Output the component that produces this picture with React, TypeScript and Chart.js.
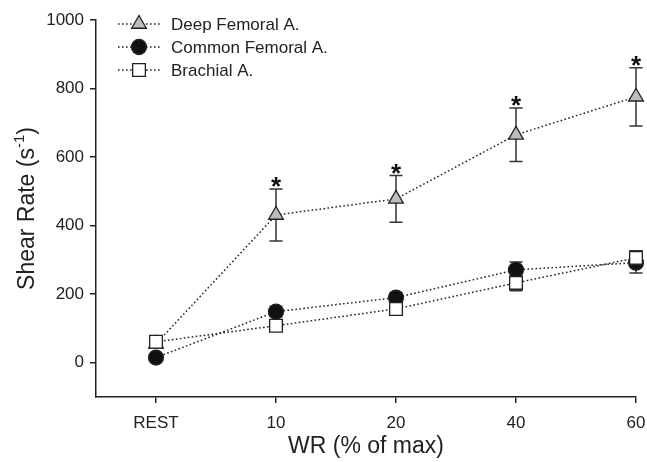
import React, { useEffect, useRef } from "react";
import { Chart, registerables } from "chart.js";

Chart.register(...registerables);

const categories = ["REST", "10", "20", "40", "60"];
const yTicks = [0, 200, 400, 600, 800, 1000];

const deepFemoral = [55, 431, 478, 665, 776];
const deepFemoralErr = [0, 76, 68, 78, 85];
const commonFemoral = [15, 149, 190, 271, 292];
const commonFemoralErr = [6, 15, 14, 23, 30];
const brachial = [61, 108, 157, 233, 306];
const brachialErr = [4, 9, 10, 23, 21];
const significant = [false, true, true, true, true];

const seriesNames = ["Deep Femoral A.", "Common Femoral A.", "Brachial A."];

const FONT = "'Liberation Sans', Arial, Helvetica, sans-serif";
const INK = "#222";

type Marker = { style: string; radius: number; fill: string };
const markers: Marker[] = [
  { style: "triangle", radius: 8.5, fill: "#bdbdbd" },
  { style: "circle", radius: 7.5, fill: "#111" },
  { style: "rect", radius: 9, fill: "#ffffff" },
];

function drawMarker(ctx: CanvasRenderingContext2D, m: Marker, x: number, y: number) {
  ctx.save();
  ctx.fillStyle = m.fill;
  ctx.strokeStyle = INK;
  ctx.lineWidth = 1.3;
  ctx.setLineDash([]);
  ctx.beginPath();
  const r = m.radius;
  if (m.style === "circle") {
    ctx.arc(x, y, r, 0, Math.PI * 2);
  } else if (m.style === "rect") {
    const s = r * Math.SQRT1_2;
    ctx.rect(x - s, y - s, 2 * s, 2 * s);
  } else {
    let a = 0;
    ctx.moveTo(x + Math.sin(a) * r, y - Math.cos(a) * r);
    a += (2 * Math.PI) / 3;
    ctx.lineTo(x + Math.sin(a) * r, y - Math.cos(a) * r);
    a += (2 * Math.PI) / 3;
    ctx.lineTo(x + Math.sin(a) * r, y - Math.cos(a) * r);
    ctx.closePath();
  }
  ctx.fill();
  ctx.stroke();
  ctx.restore();
}

const errorBarPlugin = {
  id: "errorBars",
  beforeDatasetsDraw(chart: any) {
    const ctx: CanvasRenderingContext2D = chart.ctx;
    const xs = chart.scales.x;
    const ys = chart.scales.y;
    ctx.save();
    ctx.strokeStyle = "#333";
    ctx.lineWidth = 1.5;
    chart.data.datasets.forEach((ds: any) => {
      const errs: number[] = ds.errors || [];
      ds.data.forEach((p: any, i: number) => {
        const e = errs[i];
        if (!e) return;
        const px = xs.getPixelForValue(p.x);
        const top = ys.getPixelForValue(p.y + e);
        const bot = ys.getPixelForValue(p.y - e);
        const cap = 6.5;
        ctx.beginPath();
        ctx.moveTo(px, top);
        ctx.lineTo(px, bot);
        ctx.moveTo(px - cap, top);
        ctx.lineTo(px + cap, top);
        ctx.moveTo(px - cap, bot);
        ctx.lineTo(px + cap, bot);
        ctx.stroke();
      });
    });
    ctx.restore();
  },
  afterDatasetsDraw(chart: any) {
    const ctx: CanvasRenderingContext2D = chart.ctx;
    const xs = chart.scales.x;
    const ys = chart.scales.y;
    ctx.save();
    ctx.fillStyle = "#111";
    ctx.font = `bold 26px ${FONT}`;
    ctx.textAlign = "center";
    ctx.textBaseline = "alphabetic";
    significant.forEach((s, i) => {
      if (!s) return;
      const px = xs.getPixelForValue(i);
      const top = ys.getPixelForValue(deepFemoral[i] + deepFemoralErr[i]);
      ctx.fillText("*", px, top + 6);
    });
    ctx.restore();
  },
  afterDraw(chart: any) {
    const ctx: CanvasRenderingContext2D = chart.ctx;
    const area = chart.chartArea;
    ctx.save();
    // legend
    const legendY = [24, 47, 70];
    seriesNames.forEach((name, i) => {
      const y = legendY[i];
      ctx.strokeStyle = INK;
      ctx.lineWidth = 1.5;
      ctx.setLineDash([1.6, 2.4]);
      ctx.beginPath();
      ctx.moveTo(118, y);
      ctx.lineTo(161, y);
      ctx.stroke();
      ctx.setLineDash([]);
      drawMarker(ctx, markers[i], 139, y);
      ctx.fillStyle = INK;
      ctx.font = `17px ${FONT}`;
      ctx.textAlign = "left";
      ctx.textBaseline = "middle";
      ctx.fillText(name, 171, y + 1);
    });
    // x title
    ctx.fillStyle = INK;
    ctx.font = `23px ${FONT}`;
    ctx.textAlign = "center";
    ctx.textBaseline = "middle";
    ctx.fillText("WR (% of max)", (area.left + area.right) / 2, 447);
    // y title with superscript
    ctx.translate(26, (area.top + area.bottom) / 2);
    ctx.rotate(-Math.PI / 2);
    const main = "Shear Rate (s";
    const sup = "-1";
    const end = ")";
    ctx.font = `23px ${FONT}`;
    const w1 = ctx.measureText(main).width;
    const w3 = ctx.measureText(end).width;
    ctx.font = `15px ${FONT}`;
    const w2 = ctx.measureText(sup).width;
    const total = w1 + w2 + w3;
    let x0 = -total / 2;
    ctx.textAlign = "left";
    ctx.textBaseline = "alphabetic";
    ctx.font = `23px ${FONT}`;
    ctx.fillText(main, x0, 8);
    ctx.font = `15px ${FONT}`;
    ctx.fillText(sup, x0 + w1, -2);
    ctx.font = `23px ${FONT}`;
    ctx.fillText(end, x0 + w1 + w2, 8);
    ctx.restore();
  },
};

export default function App() {
  const ref = useRef<HTMLCanvasElement | null>(null);
  useEffect(() => {
    document.body.style.margin = "0";
    const canvas = ref.current;
    if (!canvas) return;
    const toPts = (arr: number[]) => arr.map((v, i) => ({ x: i, y: v }));
    const lineCommon = {
      borderColor: INK,
      borderWidth: 1.5,
      borderDash: [1.6, 2.4],
      pointBorderColor: INK,
      pointBorderWidth: 1.3,
      pointHoverRadius: 8,
      tension: 0,
      fill: false,
      clip: false as any,
    };
    const chart = new Chart(canvas, {
      type: "line",
      data: {
        datasets: [
          {
            ...lineCommon,
            label: seriesNames[2],
            data: toPts(brachial),
            errors: brachialErr,
            pointStyle: "rect",
            pointRadius: markers[2].radius,
            pointBackgroundColor: markers[2].fill,
            order: 0,
          } as any,
          {
            ...lineCommon,
            label: seriesNames[1],
            data: toPts(commonFemoral),
            errors: commonFemoralErr,
            pointStyle: "circle",
            pointRadius: markers[1].radius,
            pointBackgroundColor: markers[1].fill,
            order: 1,
          } as any,
          {
            ...lineCommon,
            label: seriesNames[0],
            data: toPts(deepFemoral),
            errors: deepFemoralErr,
            pointStyle: "triangle",
            pointRadius: markers[0].radius,
            pointBackgroundColor: markers[0].fill,
            order: 2,
          } as any,
        ],
      },
      options: {
        responsive: false,
        animation: false,
        devicePixelRatio: 1,
        layout: { padding: { left: 0, top: 20, right: 11, bottom: 0 } },
        plugins: { legend: { display: false }, tooltip: { enabled: false } },
        scales: {
          x: {
            type: "linear",
            min: -0.5,
            max: 4,
            afterFit: (s: any) => {
              s.height = 65;
              s.paddingRight = 0;
              s.paddingLeft = 0;
            },
            afterBuildTicks: (s: any) => {
              s.ticks = categories.map((_, i) => ({ value: i }));
            },
            ticks: {
              color: INK,
              font: { family: FONT, size: 17 },
              padding: 10,
              maxRotation: 0,
              callback: (v: any) => categories[v] ?? "",
            },
            grid: {
              drawOnChartArea: false,
              drawTicks: true,
              tickLength: 6,
              color: INK,
              lineWidth: 1.5,
            },
            border: { display: true, color: INK, width: 1.5 },
          },
          y: {
            type: "linear",
            min: -100,
            max: 1000,
            afterFit: (s: any) => {
              s.width = 96;
              s.paddingTop = 0;
              s.paddingBottom = 0;
            },
            afterBuildTicks: (s: any) => {
              s.ticks = yTicks.map((v) => ({ value: v }));
            },
            ticks: {
              color: INK,
              font: { family: FONT, size: 17 },
              padding: 6,
              callback: (v: any) => String(v),
            },
            grid: {
              drawOnChartArea: false,
              drawTicks: true,
              tickLength: 6,
              color: INK,
              lineWidth: 1.5,
            },
            border: { display: true, color: INK, width: 1.5 },
          },
        },
      },
      plugins: [errorBarPlugin],
    });
    return () => chart.destroy();
  }, []);
  return (
    <div style={{ width: 647, height: 462 }}>
      <canvas ref={ref} width={647} height={462} style={{ display: "block" }} />
    </div>
  );
}
